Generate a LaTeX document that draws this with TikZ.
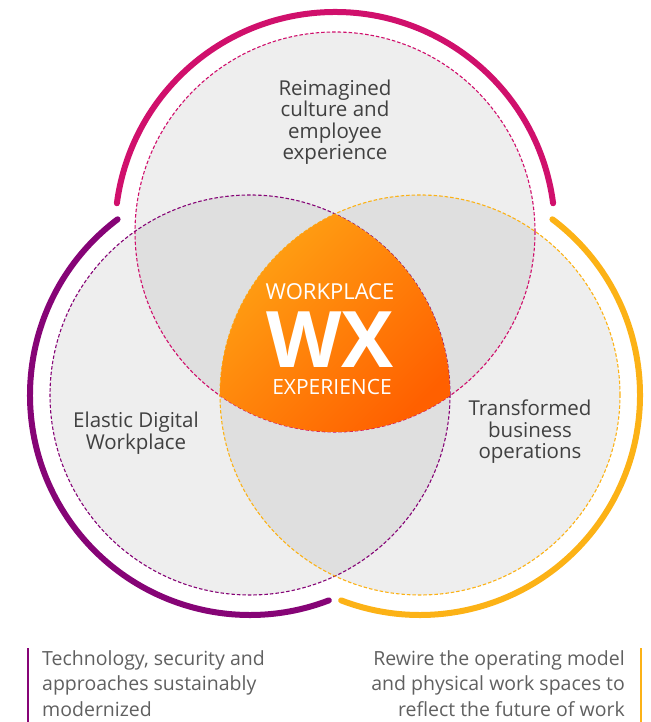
\documentclass[tikz,border=0pt]{standalone}
\usepackage{fontspec}
\setmainfont{Open Sans}

\definecolor{wxmagenta}{RGB}{208,16,108}
\definecolor{wxpurple}{RGB}{134,4,118}
\definecolor{wxyellow}{RGB}{252,178,22}
\definecolor{wxlight}{RGB}{238,238,238}
\definecolor{wxmid}{RGB}{223,223,223}
\definecolor{wxtext}{RGB}{64,64,64}
\definecolor{wxnote}{RGB}{96,96,96}
\definecolor{wxorangeA}{RGB}{255,164,20}
\definecolor{wxorangeB}{RGB}{255,96,0}

\tikzset{
	ring/.style={line width=6pt,line cap=round},
	dashring/.style={line width=1.1pt,dash pattern=on 3.5pt off 2pt},
	circletext/.style={text=wxtext,align=center,inner sep=0pt,font=\fontsize{20.5}{21.5}\selectfont},
	notetext/.style={text=wxnote,inner sep=0pt,text depth=0pt,font=\fontsize{19.5}{25.5}\selectfont},
	wxtext/.style={text=white,inner sep=0pt},
}

\begin{document}
\begin{tikzpicture}[x=1pt,y=1pt]
\useasboundingbox (0,0) rectangle (650,722);
%Mittelpunkte
\coordinate (top) at (335,490);
\coordinate (lft) at (250,327);
\coordinate (rgt) at (420,327);

%Flaechen
\fill[wxlight] (top) circle (200);
\fill[wxlight] (lft) circle (200);
\fill[wxlight] (rgt) circle (200);
\begin{scope}
\clip (top) circle (200);
\fill[wxmid] (lft) circle (200);
\fill[wxmid] (rgt) circle (200);
\end{scope}
\begin{scope}
\clip (lft) circle (200);
\fill[wxmid] (rgt) circle (200);
\end{scope}

%gestrichelte Kreise
\draw[dashring,wxmagenta] (top) circle (200);
\draw[dashring,wxpurple] (lft) circle (200);
\draw[dashring,wxyellow] (rgt) circle (200);

%Schnittmenge
\begin{scope}
\clip (top) circle (200);
\clip (lft) circle (200);
\clip (rgt) circle (200);
\shade[top color=wxorangeA,bottom color=wxorangeB,shading angle=45] (215,285) rectangle (455,515);
\end{scope}

%aeussere Boegen
\draw[ring,wxmagenta] ([shift={(7.5:220)}]top) arc[start angle=7.5,end angle=172.5,radius=220];
\draw[ring,wxpurple] ([shift={(127:220)}]lft) arc[start angle=127,end angle=291,radius=220];
\draw[ring,wxyellow] ([shift={(53:220)}]rgt) arc[start angle=53,end angle=-111,radius=220];

%Texte
\node[circletext] (culture) at (335,600) {Reimagined\\culture and\\employee\\experience};
\node[circletext] (elastic) at (136,289) {Elastic Digital\\Workplace};
\node[circletext] (business) at (530,290) {Transformed\\business\\operations};

\node[wxtext,font=\fontsize{22}{24}\selectfont] (workplace) at (330,430) {WORKPLACE};
\node[wxtext,font=\bfseries\fontsize{78}{80}\selectfont] (wx) at (330,382) {WX};
\node[wxtext,font=\fontsize{21}{24}\selectfont] (experience) at (332,335) {EXPERIENCE};

%Fussnoten
\draw[wxpurple,line width=2pt] (28,0) -- (28,74);
\draw[wxyellow,line width=2pt] (641,0) -- (641,74);
\node[notetext,anchor=north west,align=left] (technology) at (42,72) {Technology, security and\\approaches sustainably\\modernized};
\node[notetext,anchor=north east,align=right] (rewire) at (625,72) {Rewire the operating model\\and physical work spaces to\\reflect the future of work};
\end{tikzpicture}
\end{document}
